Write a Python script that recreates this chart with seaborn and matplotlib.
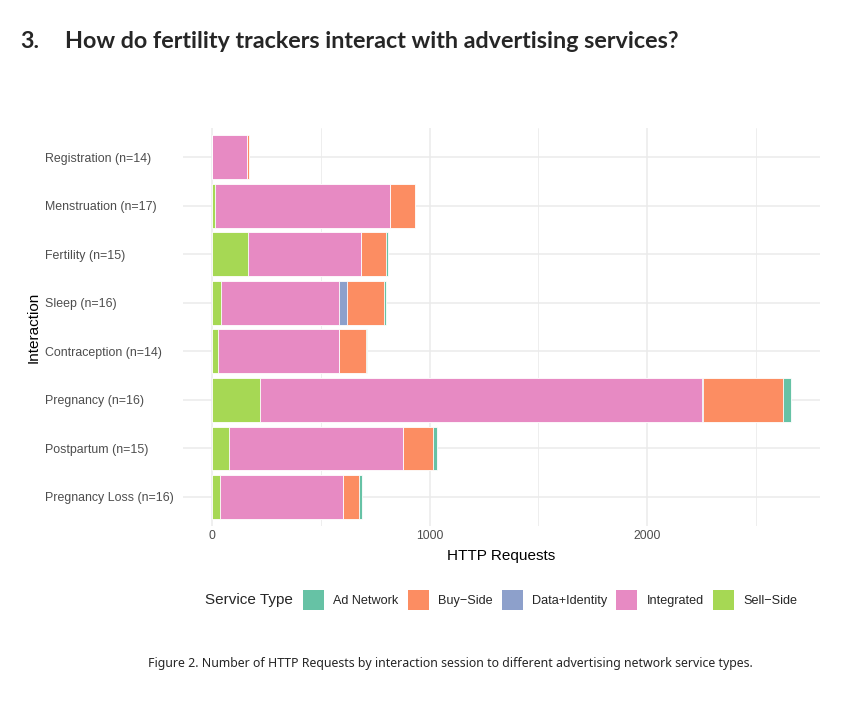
import numpy as np
import pandas as pd
import matplotlib
matplotlib.use('Agg')
import matplotlib.pyplot as plt
from matplotlib.patches import Patch
from matplotlib.ticker import MultipleLocator
import seaborn as sns

# ---- data ----
interactions = ['Registration (n=14)', 'Menstruation (n=17)', 'Fertility (n=15)', 'Sleep (n=16)',
                'Contraception (n=14)', 'Pregnancy (n=16)', 'Postpartum (n=15)', 'Pregnancy Loss (n=16)']
sell_side = [0, 15, 165, 40, 27, 221, 78, 38]
integrated = [163, 804, 521, 546, 559, 2032, 802, 562]
data_identity = [0, 0, 0, 36, 0, 4, 0, 0]
buy_side = [7, 112, 112, 167, 122, 366, 136, 76]
ad_network = [1, 4, 9, 13, 5, 38, 16, 13]

service_types = ['Ad Network', 'Buy-Side', 'Data+Identity', 'Integrated', 'Sell-Side']
legend_labels = ['Ad Network', 'Buy\u2212Side', 'Data+Identity', 'Integrated', 'Sell\u2212Side']
colors = {'Ad Network': '#66C2A5', 'Buy-Side': '#FC8D62', 'Data+Identity': '#8DA0CB',
          'Integrated': '#E78AC3', 'Sell-Side': '#A6D854'}

df = pd.DataFrame({'Interaction': interactions, 'Sell-Side': sell_side, 'Integrated': integrated,
                   'Data+Identity': data_identity, 'Buy-Side': buy_side, 'Ad Network': ad_network})

# stacked left -> right
stack_order = ['Sell-Side', 'Integrated', 'Data+Identity', 'Buy-Side', 'Ad Network']
cum = df[stack_order].cumsum(axis=1)

sns.set_theme(style='whitegrid')
plt.rcParams['font.family'] = ['Liberation Sans', 'DejaVu Sans']

fig = plt.figure(figsize=(8.5, 7.01), dpi=100)
ax = fig.add_axes([0.2153, 0.2496, 0.7494, 0.5678])

# draw cumulative bars from the rightmost segment back to the left
for svc in reversed(stack_order):
    sns.barplot(x=cum[svc], y=df['Interaction'], color=colors[svc], orient='h', width=0.9,
                edgecolor='white', linewidth=0.6, saturation=1, ax=ax)

total_max = cum['Ad Network'].max()
ax.set_xlim(-0.05 * total_max, 1.05 * total_max)
ax.set_ylim(len(interactions) - 0.4, -0.6)
ax.xaxis.set_major_locator(MultipleLocator(1000))
ax.xaxis.set_minor_locator(MultipleLocator(500))
ax.grid(True, which='major', color='#EBEBEB', linewidth=1.1)
ax.grid(True, which='minor', axis='x', color='#EBEBEB', linewidth=0.6)
ax.set_axisbelow(True)
for s in ax.spines.values():
    s.set_visible(False)
ax.tick_params(axis='x', which='both', length=0, labelsize=8.8, labelcolor='#4D4D4D', pad=3)
# y labels left-aligned (ggplot hjust = 0)
ax.tick_params(axis='y', which='both', length=0, labelsize=8.9, labelcolor='#4D4D4D', pad=99.4)
for lbl in ax.get_yticklabels():
    lbl.set_horizontalalignment('left')
ax.set_xlabel('HTTP Requests', fontsize=11, color='black', labelpad=5)
ax.set_ylabel('Interaction', fontsize=11, color='black')
ax.yaxis.set_label_coords(-0.224, 0.5)

# legend at the bottom, title on the left
handles = [Patch(facecolor=colors[s], edgecolor='none') for s in service_types]
fig.text(205 / 850, 1 - 600 / 701, 'Service Type', fontsize=11, va='center', ha='left')
fig.legend(handles, legend_labels, loc='center left', bbox_to_anchor=(303 / 850, 1 - 600 / 701),
           ncol=5, frameon=False, fontsize=9.1, handlelength=1.65, handleheight=2.1,
           handletextpad=0.75, columnspacing=0.72, borderpad=0, borderaxespad=0)

# heading and caption
fig.text(20 / 850, 1 - 42 / 701, '3.', fontsize=16.8, fontweight='bold', va='center',
         family=['Lato', 'DejaVu Sans'])
fig.text(65 / 850, 1 - 42 / 701, 'How do fertility trackers interact with advertising services?',
         fontsize=16.8, fontweight='bold', va='center', family=['Lato', 'DejaVu Sans'])
fig.text(0.53, 1 - 663 / 701,
         'Figure 2. Number of HTTP Requests by interaction session to different advertising network service types.',
         fontsize=8.9, ha='center', va='center', family=['Noto Sans', 'DejaVu Sans'])

fig.savefig('out.png', dpi=100)
